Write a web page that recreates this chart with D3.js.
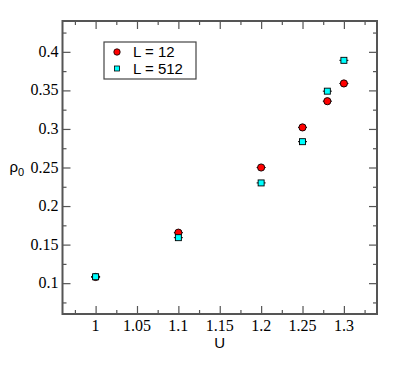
<!DOCTYPE html>
<html>
<head>
<meta charset="utf-8">
<script src="https://cdn.jsdelivr.net/npm/d3@7"></script>
<style>
  body { margin: 0; background: #fff; }
</style>
</head>
<body>
<svg id="chart"></svg>
<script>
// data
const uValues = [1, 1.1, 1.2, 1.25, 1.28, 1.3];
const rhoL12 = [0.108, 0.1655, 0.25, 0.302, 0.336, 0.359];
const rhoL512 = [0.1083, 0.159, 0.23, 0.2835, 0.349, 0.389];
const xTicks = [1, 1.05, 1.1, 1.15, 1.2, 1.25, 1.3];
const yTicks = [0.1, 0.15, 0.2, 0.25, 0.3, 0.35, 0.4];
const seriesNames = ["L = 12", "L = 512"];

const serifFont = "'Liberation Serif', 'DejaVu Serif', serif";
const sansFont = "'Liberation Sans', 'DejaVu Sans', sans-serif";

const width = 399, height = 367;
const margin = { top: 21, right: 22, bottom: 53, left: 62.5 };
const w = width - margin.left - margin.right;
const h = height - margin.top - margin.bottom;

const svg = d3.select("#chart").attr("width", width).attr("height", height);
const g = svg.append("g").attr("transform", `translate(${margin.left},${margin.top})`);

const x = d3.scaleLinear().domain([0.96, 1.34]).range([0, w]);
const y = d3.scaleLinear().domain([0.06, 0.44]).range([h, 0]);

const minorX = d3.range(0.975, 1.34, 0.05);
const minorY = d3.range(0.075, 0.44, 0.05);
const axisColor = "#555";

// ticks on all four sides, pointing inward
function tickAxis(axis, ticks, size) {
  return axis.tickValues(ticks).tickSize(size).tickFormat("");
}
g.append("g").attr("transform", `translate(0,${h})`).call(tickAxis(d3.axisBottom(x), xTicks, -8));
g.append("g").attr("transform", `translate(0,${h})`).call(tickAxis(d3.axisBottom(x), minorX, -4));
g.append("g").call(tickAxis(d3.axisTop(x), xTicks, -8));
g.append("g").call(tickAxis(d3.axisTop(x), minorX, -4));
g.append("g").call(tickAxis(d3.axisLeft(y), yTicks, -8));
g.append("g").call(tickAxis(d3.axisLeft(y), minorY, -4));
g.append("g").attr("transform", `translate(${w},0)`).call(tickAxis(d3.axisRight(y), yTicks, -8));
g.append("g").attr("transform", `translate(${w},0)`).call(tickAxis(d3.axisRight(y), minorY, -4));
g.selectAll(".domain").remove();
g.selectAll(".tick line").attr("stroke", axisColor).attr("stroke-width", 1.2);

g.append("rect").attr("width", w).attr("height", h)
  .attr("fill", "none").attr("stroke", axisColor).attr("stroke-width", 2);

// tick labels
g.selectAll(".xlab").data(xTicks).enter().append("text")
  .attr("font-family", serifFont).attr("font-size", 16)
  .attr("x", d => x(d)).attr("y", h + 17)
  .attr("text-anchor", "middle")
  .text(d => d);
g.selectAll(".ylab").data(yTicks).enter().append("text")
  .attr("font-family", serifFont).attr("font-size", 16)
  .attr("x", -4).attr("y", d => y(d) + 5)
  .attr("text-anchor", "end")
  .text(d => d);

// axis titles
g.append("text").attr("font-family", sansFont).attr("font-size", 15)
  .attr("x", x(1.15)).attr("y", h + 34)
  .attr("text-anchor", "middle")
  .text("U");
const yt = g.append("text").attr("font-family", sansFont).attr("font-size", 15)
  .attr("x", -53).attr("y", y(0.25) + 4);
yt.append("tspan").text("ρ");
yt.append("tspan").attr("dy", 4).attr("font-size", 11).text("0");

// points
const pts12 = uValues.map((u, i) => ({ u, v: rhoL12[i] }));
const pts512 = uValues.map((u, i) => ({ u, v: rhoL512[i] }));

function errBars(data) {
  g.selectAll(null).data(data).enter().append("line")
    .attr("x1", d => x(d.u) - 4.5).attr("x2", d => x(d.u) + 4.5)
    .attr("y1", d => y(d.v)).attr("y2", d => y(d.v))
    .attr("stroke", "#000").attr("stroke-width", 1);
}
errBars(pts12);
g.selectAll(".c12").data(pts12).enter().append("circle")
  .attr("cx", d => x(d.u)).attr("cy", d => y(d.v)).attr("r", 3.6)
  .attr("fill", "#ff0000").attr("stroke", "#000").attr("stroke-width", 0.9);
errBars(pts512);
g.selectAll(".s512").data(pts512).enter().append("rect")
  .attr("x", d => x(d.u) - 3).attr("y", d => y(d.v) - 3)
  .attr("width", 6).attr("height", 6)
  .attr("fill", "#00ffff").attr("stroke", "#000").attr("stroke-width", 0.9);

// legend
const lg = svg.append("g").attr("transform", "translate(104,42)");
lg.append("rect").attr("width", 92).attr("height", 37)
  .attr("fill", "#fff").attr("stroke", "#444").attr("stroke-width", 1.2);
lg.append("circle").attr("cx", 13).attr("cy", 10).attr("r", 3.2)
  .attr("fill", "#ff0000").attr("stroke", "#000").attr("stroke-width", 0.8);
lg.append("rect").attr("x", 10.5).attr("y", 24).attr("width", 5).attr("height", 5)
  .attr("fill", "#00ffff").attr("stroke", "#000").attr("stroke-width", 0.8);
lg.selectAll(".lt").data(seriesNames).enter().append("text")
  .attr("font-family", sansFont).attr("font-size", 15)
  .attr("x", 29).attr("y", (d, i) => 15 + i * 17)
  .text(d => d);
</script>
</body>
</html>
